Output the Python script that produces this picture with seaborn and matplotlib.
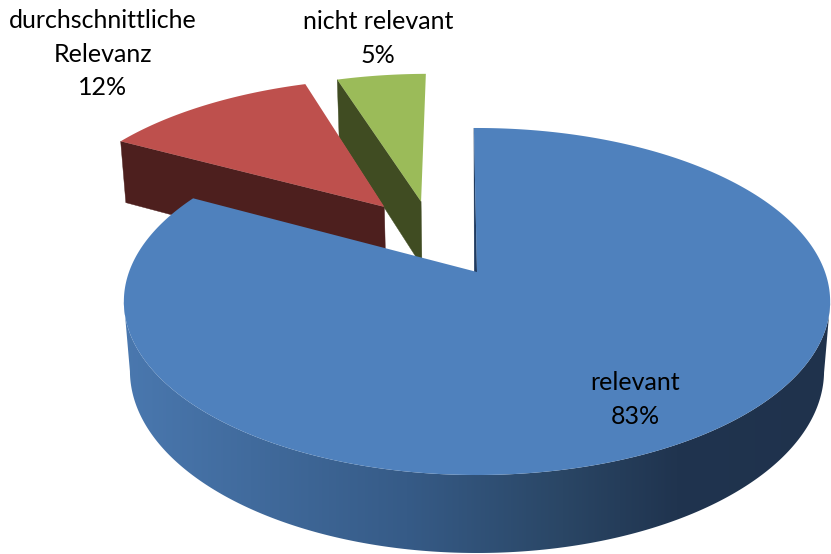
import numpy as np
import matplotlib
matplotlib.use("Agg")
import matplotlib.pyplot as plt
from matplotlib.colors import LinearSegmentedColormap
from matplotlib.patches import Polygon
from matplotlib.path import Path
from matplotlib.transforms import Transform
import seaborn as sns

# ---- data ----
categories = ["relevant", "durchschnittliche\nRelevanz", "nicht relevant"]
shares = [83, 12, 5]

# ---- styling ----
top_colors = ["#4F81BD", "#BE504D", "#9BBB59"]
wall_colors = [None, "#4D1F1E", "#404C22"]
slice_offsets = [(0.0, 0.0), (-0.285, 0.414), (-0.173, 0.450)]
slice_radii = [1.0, 1.015, 1.02]
label_xy = [(635, 399.5), (103, 54), (378, 38.5)]

sns.set_theme(style="white")
plt.rcParams["font.family"] = ["Lato", "DejaVu Sans"]

CX, CY = 477.0, 272.0
RX, RY, K, M, D = 348.0, 168.5, 0.17, 0.017, 69.5


def project(u, v, z=0.0):
    """Perspective view of the pie's disc: u, v on the disc, z = depth."""
    u, v, z = np.asarray(u, float), np.asarray(v, float), np.asarray(z, float)
    w = 1 + K * v + M * z
    return CX + RX * u / w, CY - (RY * v - D * z) / w


class DiscView(Transform):
    input_dims = output_dims = 2
    is_separable = False
    has_inverse = False

    def transform_non_affine(self, values):
        x, y = project(values[:, 0], values[:, 1])
        return np.column_stack([x, y])

    def transform_path_non_affine(self, path):
        ts = np.linspace(0, 1, 24)
        pts = []
        for curve, code in path.iter_bezier():
            if code == Path.MOVETO:
                pts.append(curve.control_points[-1:])
            else:
                pts.append(curve(ts))
        pts = np.vstack(pts)
        return Path(self.transform_non_affine(pts))


fig = plt.figure(figsize=(8.31, 5.54), dpi=100, facecolor="white")
ax = fig.add_axes([0, 0, 1, 1])

wedges, _ = ax.pie(shares, colors=top_colors, startangle=90.6, counterclock=False,
                   wedgeprops={"linewidth": 0})
view = DiscView() + ax.transData
for wedge, offset, radius, z in zip(wedges, slice_offsets, slice_radii, (6, 3, 3)):
    wedge.set_center(offset)
    wedge.set_radius(radius)
    wedge.set_transform(view)
    wedge.set_zorder(z)


def cut_face(wedge, theta):
    """Flat cut face of an exploded slice along the radius at theta."""
    (u0, v0) = wedge.center
    u = np.array([u0, u0 + wedge.r * np.cos(np.radians(theta))])
    v = np.array([v0, v0 + wedge.r * np.sin(np.radians(theta))])
    x_top, y_top = project(u, v, 0)
    x_bot, y_bot = project(u, v, 1)
    return np.r_[x_top, x_bot[::-1]], np.r_[y_top, y_bot[::-1]]


# cut faces of the two exploded slices
for wedge, color in zip(wedges[1:], wall_colors[1:]):
    fx, fy = cut_face(wedge, wedge.theta2)
    ax.fill(fx, fy, color=color, lw=0.3, zorder=2)

# rim of the large slice, shaded from left to right
rim = LinearSegmentedColormap.from_list(
    "rim", [(0.0, "#4A78AF"), (0.4, "#365B87"), (0.62, "#2A4665"),
            (0.78, "#20344F"), (1.0, "#1F324C")])
big = wedges[0]
theta = np.radians(np.arange(big.theta1, big.theta2, 0.5))
theta = theta[np.sin(theta) < -0.17]
cu, cv = np.cos(theta), np.sin(theta)
xt, yt = project(cu, cv, 0)
xb, yb = project(cu, cv, 1)
outline = np.column_stack([np.r_[xt, xb[::-1]], np.r_[yt, yb[::-1]]])
image = ax.imshow(np.linspace(0, 1, 256)[None, :], cmap=rim, aspect="auto",
                  extent=(122, 834, 554, 0), zorder=5, interpolation="bilinear")
image.set_clip_path(Polygon(outline, closed=True, transform=ax.transData))

# thin sliver of the dark cut face beside the start edge of the large slice
st = np.radians(big.theta2)
sx, sy = project([np.cos(st), 0.0, -0.008], [np.sin(st), 0.0, 0.0])
ax.fill(sx, sy, color="#1F3A5F", lw=0.2, zorder=5)

ax.set_aspect("auto")
ax.set_xlim(0, 831)
ax.set_ylim(554, 0)
ax.set_axis_off()

for name, share, (tx, ty) in zip(categories, shares, label_xy):
    ax.text(tx, ty, f"{name}\n{share}%", ha="center", va="center", fontsize=18,
            color="black", linespacing=1.55, zorder=8)

fig.savefig("out.png", dpi=100, facecolor="white")
